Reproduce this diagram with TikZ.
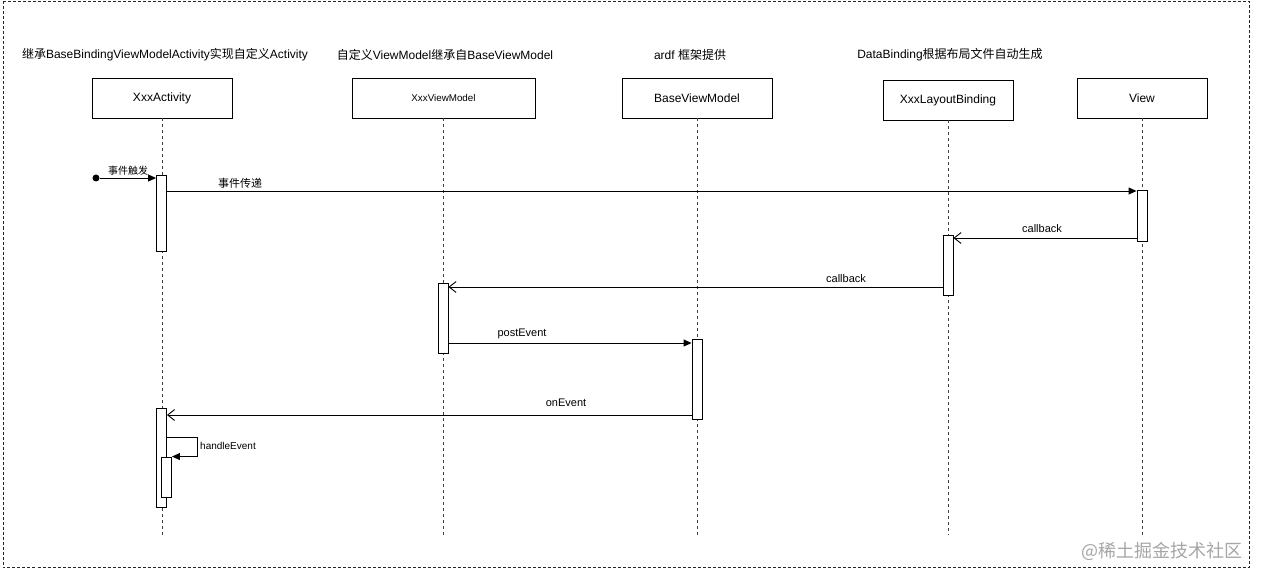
\documentclass[tikz,border=0pt]{standalone}
\usepackage{fontspec}
\setmainfont{Liberation Sans}
\newfontfamily\cjk{Noto Sans CJK SC}
\usetikzlibrary{arrows.meta}
\tikzset{
  frame/.style={draw=black!85, line width=0.9pt, dash pattern=on 3pt off 2pt},
  objbox/.style={draw=black, line width=0.9pt, fill=white, minimum height=40pt, inner sep=0pt, font=\fontsize{12}{14}\selectfont},
  lifeline/.style={draw=black!75, line width=0.9pt, dash pattern=on 3pt off 3pt},
  actbox/.style={draw=black, line width=0.9pt, fill=white, minimum width=10pt, inner sep=0pt},
  title/.style={font=\fontsize{12}{14}\selectfont, inner sep=0pt},
  lbl/.style={font=\fontsize{11}{13}\selectfont, inner sep=0pt},
  syncmsg/.style={draw=black, line width=0.9pt, -{Triangle[length=8pt,width=7pt]}},
  retmsg/.style={draw=black, line width=0.9pt, -{Straight Barb[length=7pt,width=11pt,line width=0.9pt]}},
}
\begin{document}
\begin{tikzpicture}[x=1pt,y=-1pt]
\useasboundingbox (0,0) rectangle (1263,580);
\fill[white] (0,0) rectangle (1263,580);
\draw[frame] (3,1.5) rectangle (1249,567);

% titles
\node[title] (t1) at (165,55) {{\cjk 继承}BaseBindingViewModelActivity{\cjk 实现自定义}Activity};
\node[title] (t2) at (445,55) {{\cjk 自定义}ViewModel{\cjk 继承自}BaseViewModel};
\node[title] (t3) at (690,55) {ardf {\cjk 框架提供}};
\node[title] (t4) at (950,55) {DataBinding{\cjk 根据布局文件自动生成}};

% object boxes
\node[objbox, minimum width=140pt] (act) at (162,98) {XxxActivity};
\node[objbox, minimum width=183pt, font=\fontsize{9.8}{11}\selectfont] (vm) at (443.5,98) {XxxViewModel};
\node[objbox, minimum width=150pt] (bvm) at (697,98) {BaseViewModel};
\node[objbox, minimum width=130pt] (lb) at (948,100) {XxxLayoutBinding};
\node[objbox, minimum width=130pt] (view) at (1142,98) {View};

% lifelines
\coordinate (end) at (0,535);
\draw[lifeline] (act.south) -- (act.south |- end);
\draw[lifeline] (vm.south) -- (vm.south |- end);
\draw[lifeline] (bvm.south) -- (bvm.south |- end);
\draw[lifeline] (lb.south) -- (lb.south |- end);
\draw[lifeline] (view.south) -- (view.south |- end);

% activations
\node[actbox, minimum height=76pt] (a1) at (161.5,213) {};
\node[actbox, minimum height=51pt] (a2) at (1142,215.5) {};
\node[actbox, minimum height=60pt] (a3) at (948,265) {};
\node[actbox, minimum height=70pt] (a4) at (443,318) {};
\node[actbox, minimum height=80pt] (a5) at (697,379) {};
\node[actbox, minimum height=99pt] (a6) at (161.5,457.5) {};
\node[actbox, minimum height=40pt] (a7) at (166.5,477) {};

% found message
\node[circle, fill=black, inner sep=0pt, minimum size=7pt] (start) at (96,178) {};
\draw[syncmsg] (start) -- (a1.west |- start);
\node[lbl, font=\fontsize{10}{12}\selectfont\cjk] (l0) at (128,171) {事件触发};

% messages
\coordinate (y1) at (0,191);
\draw[syncmsg] (a1.east |- y1) -- (a2.west |- y1);
\node[lbl, font=\fontsize{11}{13}\selectfont\cjk] (l1) at (240,183) {事件传递};

\coordinate (y2) at (0,238);
\draw[retmsg] (a2.west |- y2) -- (a3.east |- y2);
\node[lbl] (l2) at (1042,229) {callback};

\coordinate (y3) at (0,287);
\draw[retmsg] (a3.west |- y3) -- (a4.east |- y3);
\node[lbl] (l3) at (846,279) {callback};

\coordinate (y4) at (0,343);
\draw[syncmsg] (a4.east |- y4) -- (a5.west |- y4);
\node[lbl] (l4) at (522,334) {postEvent};

\coordinate (y5) at (0,415);
\draw[retmsg] (a5.west |- y5) -- (a6.east |- y5);
\node[lbl] (l5) at (566,403) {onEvent};

% self message
\coordinate (s1) at (197,437);
\draw[syncmsg] (a6.east |- s1) -- (s1) -- (s1 |- a7.north) -- (a7.north east);
\node[lbl, anchor=west, font=\fontsize{10}{12}\selectfont] (l6) at (200,446) {handleEvent};

% watermark
\node[inner sep=0pt, anchor=east, text=black!35, font=\fontsize{18}{20}\selectfont\cjk] (wm) at (1243,551) {@稀土掘金技术社区};
\end{tikzpicture}
\end{document}
